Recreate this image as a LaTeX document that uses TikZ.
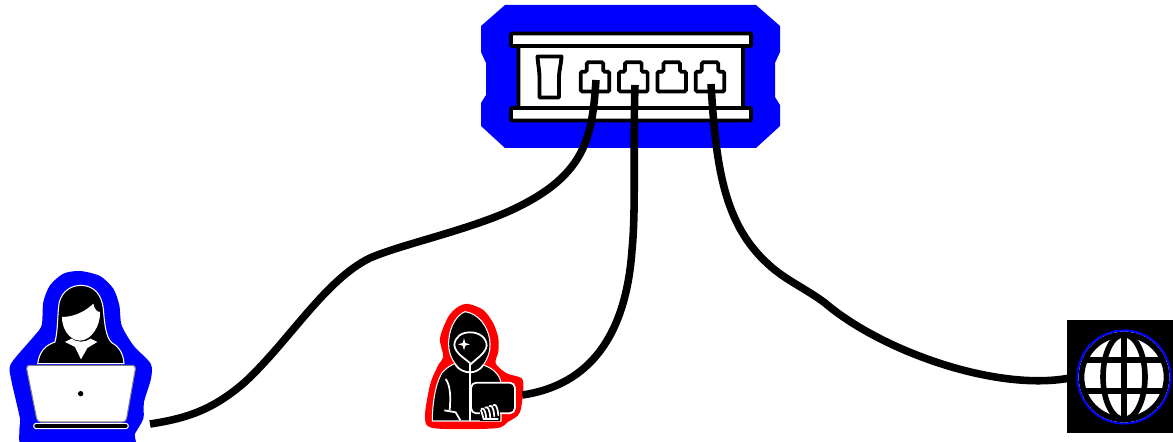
\documentclass[tikz,border=0pt]{standalone}
\usepackage{tikz}
\usetikzlibrary{positioning,arrows.meta}
\definecolor{hubblue}{RGB}{0,0,255}
\definecolor{badred}{RGB}{255,0,0}
\tikzset{
  cable/.style={line width=4.3pt,black},
  hubpart/.style={draw=black,line width=2.2pt,fill=white,rounded corners=0.6pt},
  portshape/.style={draw=black,line width=2.1pt,fill=white,rounded corners=0.8pt},
  thinwhite/.style={draw=white,line width=0.6pt},
  globeline/.style={draw=black,line width=3.2pt},
}
\begin{document}
\begin{tikzpicture}[x=0.02cm,y=-0.02cm]
\useasboundingbox (0,0) rectangle (1173,442);
\clip (0,0) rectangle (1173,442);
% router
\fill[hubblue] (505,5) -- (756,5) -- (780,26) -- (780,52) -- (775,63) -- (775,97) -- (780,105)
  -- (780,126) -- (756,148) -- (505,148) -- (481,126) -- (481,103) -- (486,95) -- (486,63)
  -- (481,52) -- (481,26) -- cycle;
\draw[hubpart] (518.5,46) rectangle (743,108);
\draw[hubpart] (511,33.5) rectangle (751,46);
\draw[hubpart] (511,108) rectangle (751,120.5);
\draw[hubpart,sharp corners,line join=round] (537.5,56.5) -- (561.5,56.5) .. controls (561,65) and (559,70) .. (559,78)
  -- (559,97.5) -- (539.5,97.5) -- (539.5,78) .. controls (539.5,70) and (538,65) .. (537.5,56.5) -- cycle;
\foreach \i/\px in {1/595,2/633.3,3/671.7,4/710} {
  \draw[portshape] (\px-14.3,71.7) -- (\px-8.3,71.7) -- (\px-8.3,62.3) -- (\px+8.3,62.3)
    -- (\px+8.3,71.7) -- (\px+14.3,71.7) -- (\px+14.3,91.5) -- (\px-14.3,91.5) -- cycle;
}
\coordinate (portA) at (596,80);
\coordinate (portB) at (635,85);
\coordinate (portD) at (711,84);
% woman with laptop
\begin{scope}[shift={(0,262)},x=0.00667cm,y=-0.00667cm]
\fill[hubblue] plot[smooth cycle,tension=0.45] coordinates {(240,27) (300,42) (340,80) (358,130)
  (365,190) (400,250) (452,305) (453,350) (432,420) (430,470) (405,515) (385,560) (85,560)
  (58,505) (60,470) (33,350) (33,305) (100,225) (125,190) (130,120) (150,70) (190,35)};
\path[fill=black,thinwhite] (113,305) .. controls (118,270) and (135,250) .. (165,240)
  .. controls (175,200) and (172,150) .. (178,120) .. controls (188,85) and (215,70) .. (245,70)
  .. controls (285,72) and (305,100) .. (310,140) .. controls (314,190) and (318,225) .. (335,242)
  .. controls (358,255) and (370,275) .. (372,305) -- cycle;
\fill[white] (186,165) .. controls (225,165) and (260,145) .. (280,125)
  .. controls (283,140) and (290,150) .. (300,150) .. controls (302,190) and (275,235) .. (240,236)
  .. controls (205,235) and (185,195) .. (186,165) -- cycle;
\fill[white] (195,240) -- (215,230) .. controls (230,242) and (255,242) .. (272,230)
  -- (292,240) -- (262,258) -- (243,292) -- (225,255) -- cycle;
\draw[fill=white,draw=gray,line width=0.6pt,rounded corners=2pt] (78,310) -- (408,310) -- (378,480)
  -- (112,480) -- cycle;
\fill[black] (242,395) circle (8);
\draw[fill=black,thinwhite,rounded corners=1.5pt] (101,484) rectangle (385,500);
\coordinate (laptop) at (450,486);
\end{scope}
% hooded attacker
\begin{scope}[shift={(415,295)},x=0.00667cm,y=-0.00667cm]
\fill[badred] plot[smooth cycle,tension=0.5] coordinates {(160,27) (205,45) (235,85) (250,130)
  (250,170) (242,205) (275,235) (320,250) (325,285) (318,340) (308,362) (280,380) (240,400)
  (60,400) (30,370) (45,270) (70,210) (85,185) (75,130) (100,65) (130,35)};
\path[fill=black,thinwhite] (150,50) .. controls (190,55) and (222,95) .. (225,145)
  .. controls (226,175) and (215,195) .. (205,210) .. controls (235,220) and (255,240) .. (258,265)
  -- (258,378) -- (52,378) .. controls (52,330) and (60,270) .. (80,235)
  .. controls (90,222) and (105,212) .. (120,205) .. controls (105,185) and (98,160) .. (102,130)
  .. controls (105,95) and (125,60) .. (150,50) -- cycle;
\draw[thinwhite,line width=1pt] (165,112) .. controls (195,112) and (215,130) .. (215,152)
  .. controls (212,175) and (185,190) .. (168,207) .. controls (150,190) and (120,175) .. (118,150)
  .. controls (120,125) and (140,112) .. (165,112) -- cycle;
\fill[white] (147,130) -- (151,144) -- (165,148) -- (151,152) -- (147,166) -- (143,152)
  -- (129,148) -- (143,144) -- cycle;
\draw[thinwhite,line width=1pt] (165,207) -- (165,378);
\draw[thinwhite,line width=1pt] (120,207) .. controls (130,225) and (150,232) .. (165,232)
  .. controls (180,232) and (195,225) .. (205,210);
\draw[thinwhite,line width=1pt] (92,252) .. controls (105,270) and (108,300) .. (104,346);
\draw[thinwhite,line width=1pt] (88,346) -- (122,352) -- (136,376);
\draw[fill=black,thinwhite,line width=1pt,rounded corners=3pt] (168,263) rectangle (300,355);
\fill[black] (195,340) rectangle (255,378);
\foreach \fx/\ftop in {205/342,217/338,229/334,241/331} {
  \draw[thinwhite,line width=1pt,line cap=round] (\fx-6,\ftop) .. controls (\fx,\ftop-4) and (\fx+6,\ftop) .. (\fx+9,\ftop+30);
}
\draw[thinwhite,line width=1pt] (198,345) -- (206,372) -- (250,372);
\coordinate (attacker) at (322,300);
\end{scope}
% internet
\fill[black] (1067,320) rectangle (1173,433);
\draw[draw=hubblue,fill=white,line width=1.2pt] (1124,377) circle (46.5);
\draw[globeline] (1124,377) circle (42.5);
\draw[globeline] (1124,377) ellipse (21 and 42.5);
\draw[globeline] (1124,334.5) -- (1124,419.5);
\draw[globeline] (1085,360) -- (1163,360);
\draw[globeline] (1085,391) -- (1163,391);
\coordinate (globe) at (1070,378);
% cables
\draw[cable] (portA) .. controls (592,140) and (585,178) .. (505,213)
  .. controls (460,232) and (400,245) .. (370,258) .. controls (325,280) and (290,340) .. (245,382)
  .. controls (215,408) and (190,418) .. (laptop);
\draw[cable] (portB) .. controls (633,150) and (636,210) .. (632,250)
  .. controls (626,335) and (590,385) .. (attacker);
\draw[cable] (portD) .. controls (716,170) and (725,225) .. (768,264)
  .. controls (785,280) and (805,288) .. (825,303) .. controls (880,350) and (995,392) .. (globe);
\end{tikzpicture}
\end{document}
